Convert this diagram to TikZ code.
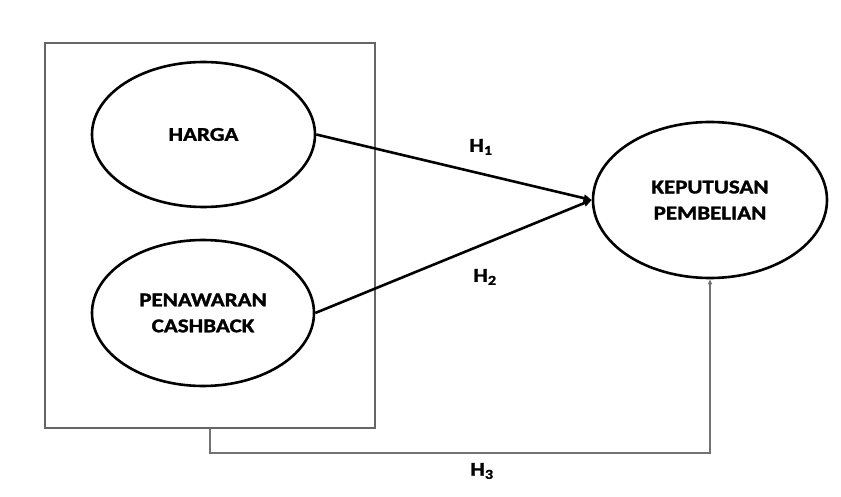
\documentclass[tikz,border=0pt]{standalone}
\usepackage{fontspec}
\setmainfont{Carlito}[FakeStretch=1.18,FakeBold=1.5]
\usetikzlibrary{shapes.geometric,arrows.meta}
\begin{document}
\begin{tikzpicture}[x=1pt,y=-1pt,
  var/.style={draw=black,line width=2.6pt,ellipse,inner sep=0pt,align=center,
    font=\fontsize{19.5}{26}\selectfont\bfseries},
  lbl/.style={font=\fontsize{19.5}{22}\selectfont\bfseries},
  path1/.style={draw=black,line width=2.6pt,-{Triangle[length=8pt,width=7pt]}},
  path3/.style={draw=black!55,line width=1.5pt,-{Triangle[length=5pt,width=4pt]}}]
\useasboundingbox[fill=white] (0,0) rectangle (841,497);
\node[draw=black!60,line width=2pt,minimum width=330pt,minimum height=385pt,inner sep=0pt] (box) at (210,235.5) {};
\node[var,minimum width=223pt,minimum height=145pt] (harga) at (203.5,134.5) {HARGA};
\node[var,minimum width=222pt,minimum height=146pt] (cash) at (203,313) {PENAWARAN\\CASHBACK};
\node[var,minimum width=234pt,minimum height=156pt] (kp) at (710,200) {KEPUTUSAN\\PEMBELIAN};
\draw[path1] (harga.east) -- (kp.west);
\draw[path1] (cash.east) -- (kp.west);
\draw[path3] (box.south) -- ++(0,24) -| (kp.south);
\node[lbl] (h1) at (481,147) {H\textsubscript{1}};
\node[lbl] (h2) at (485,277) {H\textsubscript{2}};
\node[lbl] (h3) at (482,471) {H\textsubscript{3}};
\end{tikzpicture}
\end{document}
